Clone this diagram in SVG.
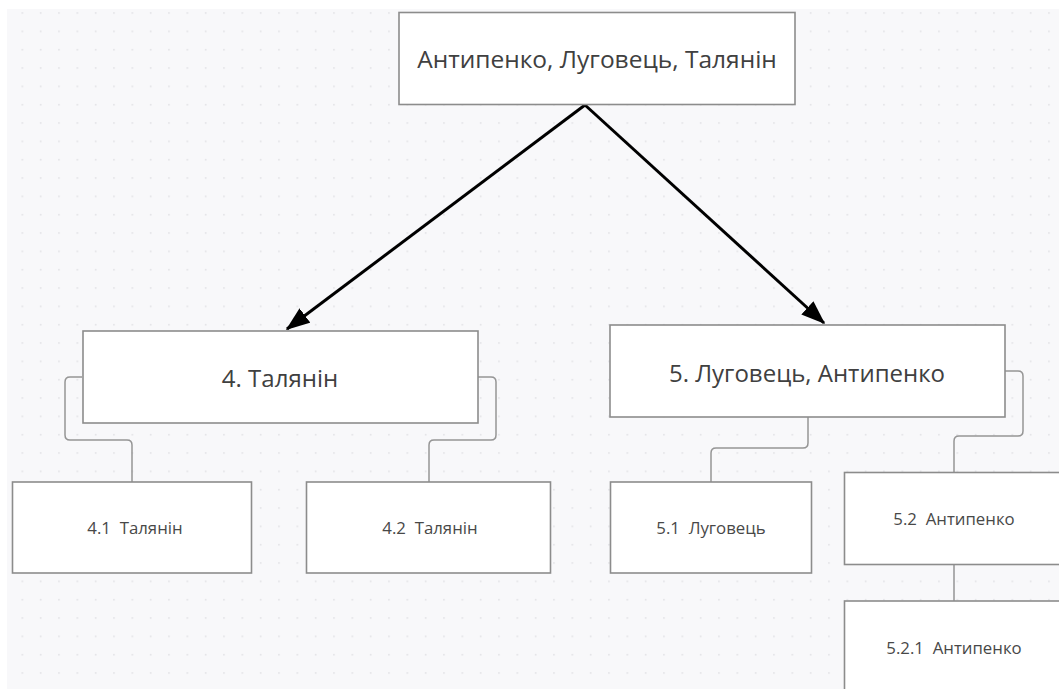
<svg xmlns="http://www.w3.org/2000/svg" width="1059" height="689" viewBox="0 0 1059 689">
  <style>
    .box { fill: #ffffff; stroke: #8c8c8c; stroke-width: 1.6; }
    .lbl { font-family: "Open Sans", "Noto Sans", "DejaVu Sans", sans-serif; fill: #404040; text-anchor: middle; white-space: pre; }
    .big { font-size: 24.5px; }
    .mid { font-size: 24px; }
    .sm { font-size: 16.8px; fill: #484848; }
    .tree { fill: none; stroke: #959595; stroke-width: 1.5; }
    .arrow { fill: none; stroke: #000000; stroke-width: 3; }
  </style>
  <defs>
    <pattern id="dots" patternUnits="userSpaceOnUse" x="21.5" y="12.2" width="18.333" height="18.333">
      <rect x="0" y="0" width="1.6" height="1.6" fill="#e2e2e6"/>
    </pattern>
    <marker id="ah" markerWidth="8" markerHeight="6" refX="7.5" refY="3" orient="auto" markerUnits="strokeWidth">
      <path d="M0,0 L8,3 L0,6 Z" fill="#000000"/>
    </marker>
  </defs>
  <rect x="0" y="0" width="1059" height="689" fill="#ffffff"/>
  <rect x="7" y="9" width="1052" height="680" fill="#f8f8fa"/>
  <rect x="7" y="9" width="1052" height="680" fill="url(#dots)"/>

  <g id="connectors">
    <line class="arrow" x1="585" y1="105" x2="287" y2="329" marker-end="url(#ah)"/>
    <line class="arrow" x1="585" y1="105" x2="824" y2="323" marker-end="url(#ah)"/>
    <path class="tree" d="M82,377 H70 Q65,377 65,382 V435 Q65,440 70,440 H127 Q132,440 132,445 V482"/>
    <path class="tree" d="M478,377 H491 Q496,377 496,382 V435 Q496,440 491,440 H434 Q429,440 429,445 V482"/>
    <path class="tree" d="M808,417 V443 Q808,448 803,448 H716 Q711,448 711,453 V482"/>
    <path class="tree" d="M1005,371 H1018 Q1023,371 1023,376 V431 Q1023,436 1018,436 H959 Q954,436 954,441 V472"/>
    <path class="tree" d="M954,565 V601"/>
  </g>

  <g id="n-root">
    <rect class="box" x="399" y="12.5" width="396" height="92"/>
    <text class="lbl big" x="597" y="68">Антипенко, Луговець, Талянін</text>
  </g>
  <g id="n-4">
    <rect class="box" x="83" y="331" width="395" height="92"/>
    <text class="lbl mid" x="280" y="387">4. Талянін</text>
  </g>
  <g id="n-5">
    <rect class="box" x="610" y="325" width="395" height="92"/>
    <text class="lbl mid" x="807" y="382">5. Луговець, Антипенко</text>
  </g>
  <g id="n-4-1">
    <rect class="box" x="12.5" y="482" width="239" height="91"/>
    <text class="lbl sm" x="135" y="534" xml:space="preserve">4.1  Талянін</text>
  </g>
  <g id="n-4-2">
    <rect class="box" x="306.5" y="482" width="244" height="91"/>
    <text class="lbl sm" x="430" y="534" xml:space="preserve">4.2  Талянін</text>
  </g>
  <g id="n-5-1">
    <rect class="box" x="610.5" y="482" width="201" height="91"/>
    <text class="lbl sm" x="711" y="534" xml:space="preserve">5.1  Луговець</text>
  </g>
  <g id="n-5-2">
    <rect class="box" x="844.5" y="472.5" width="230" height="92"/>
    <text class="lbl sm" x="954" y="524.5" xml:space="preserve">5.2  Антипенко</text>
  </g>
  <g id="n-5-2-1">
    <rect class="box" x="844.5" y="601" width="230" height="100"/>
    <text class="lbl sm" x="954" y="654" xml:space="preserve">5.2.1  Антипенко</text>
  </g>
</svg>
